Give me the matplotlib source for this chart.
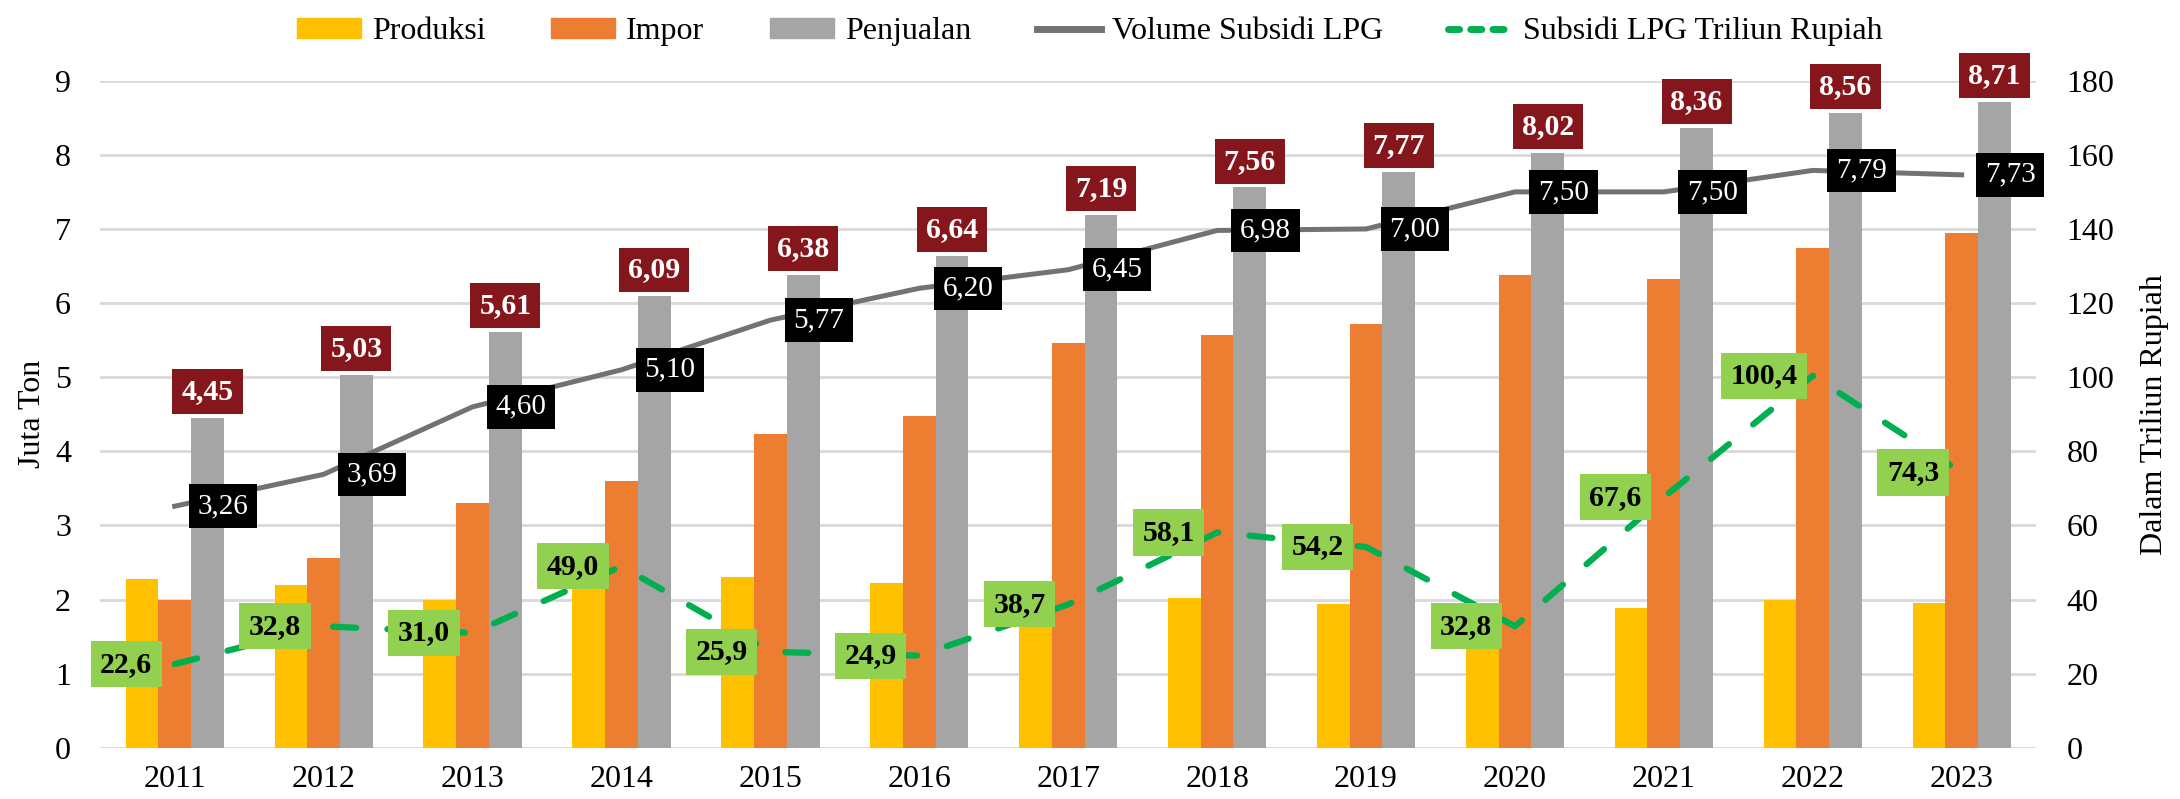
import numpy as np
import matplotlib.pyplot as plt
from matplotlib.lines import Line2D
from matplotlib.patches import Patch

plt.rcParams['font.family'] = ['Liberation Serif', 'DejaVu Serif']

tahun = ["2011", "2012", "2013", "2014", "2015", "2016", "2017",
         "2018", "2019", "2020", "2021", "2022", "2023"]
produksi = [2.28, 2.20, 2.00, 2.25, 2.30, 2.23, 1.95, 2.02, 1.94, 1.92, 1.89, 1.99, 1.96]
impor = [1.99, 2.56, 3.30, 3.60, 4.23, 4.48, 5.46, 5.57, 5.72, 6.38, 6.33, 6.74, 6.95]
penjualan = [4.45, 5.03, 5.61, 6.09, 6.38, 6.64, 7.19, 7.56, 7.77, 8.02, 8.36, 8.56, 8.71]
volume_subsidi = [3.26, 3.69, 4.60, 5.10, 5.77, 6.20, 6.45, 6.98, 7.00, 7.50, 7.50, 7.79, 7.73]
subsidi_rp = [22.6, 32.8, 31.0, 49.0, 25.9, 24.9, 38.7, 58.1, 54.2, 32.8, 67.6, 100.4, 74.3]

c_prod = "#FFC000"
c_impor = "#ED7D31"
c_jual = "#A5A5A5"
c_vol = "#767171"
c_sub = "#00B050"

def fmt(v, d):
    return f"{v:.{d}f}".replace(".", ",")

fig = plt.figure(figsize=(21.8, 7.99), dpi=100)
ax = fig.add_axes([0.046, 0.064, 0.888, 0.835])
ax2 = ax.twinx()

x = np.arange(len(tahun))
w = 0.22
ax.bar(x - w, produksi, w, color=c_prod, zorder=2)
ax.bar(x, impor, w, color=c_impor, zorder=2)
ax.bar(x + w, penjualan, w, color=c_jual, zorder=2)
ax.plot(x, volume_subsidi, color=c_vol, lw=3.6, zorder=3)

# Label penjualan (merah tua)
for xi, v in zip(x, penjualan):
    ax.annotate(fmt(v, 2), (xi + w, v), xytext=(0, 19), textcoords="offset points",
                ha="center", va="center", color="white", fontsize=21.5, fontweight="bold",
                bbox=dict(boxstyle="square,pad=0.3", fc="#85161B", ec="none"),
                zorder=6, annotation_clip=False)

# Label volume subsidi (hitam)
for xi, v in zip(x, volume_subsidi):
    ax.annotate(fmt(v, 2), (xi, v), xytext=(35, 0), textcoords="offset points",
                ha="center", va="center", color="white", fontsize=21,
                bbox=dict(boxstyle="square,pad=0.3", fc="black", ec="none"),
                zorder=6)

ax2.plot(x, subsidi_rp, color=c_sub, lw=4.5, ls=(0, (3.7, 5)), dash_capstyle="round", zorder=4)
for xi, v in zip(x, subsidi_rp):
    ax2.annotate(fmt(v, 1), (xi, v), xytext=(-35, 0), textcoords="offset points",
                 ha="center", va="center", color="black", fontsize=21.5, fontweight="bold",
                 bbox=dict(boxstyle="square,pad=0.32", fc="#92D050", ec="none"),
                 zorder=7)

ax.set_xlim(-0.5, len(tahun) - 0.5)
ax.set_ylim(0, 9)
ax2.set_ylim(0, 180)
ax.set_yticks(range(0, 10))
ax2.set_yticks(range(0, 181, 20))
ax.set_xticks(x)
ax.set_xticklabels(tahun)
ax.grid(axis="y", color="#D9D9D9", lw=2, zorder=0)
ax.set_axisbelow(True)
for a in (ax, ax2):
    for s in a.spines.values():
        s.set_visible(False)
    a.tick_params(length=0, labelsize=23)
ax.tick_params(axis="y", pad=21)
ax.tick_params(axis="x", pad=12)
ax2.tick_params(axis="y", pad=22)
ax.set_ylabel("Juta Ton", fontsize=23, labelpad=6)
ax2.set_ylabel("Dalam Triliun Rupiah", fontsize=23, labelpad=18)

ax.set_zorder(ax2.get_zorder() - 1)
ax.patch.set_visible(False)

handles = [Patch(color=c_prod), Patch(color=c_impor), Patch(color=c_jual),
           Line2D([], [], color=c_vol, lw=5),
           Line2D([], [], color=c_sub, lw=5, ls=(0, (1.6, 1.6)), dash_capstyle="round")]
names = ["Produksi", "Impor", "Penjualan", "Volume Subsidi LPG", "Subsidi LPG Triliun Rupiah"]
fig.legend(handles, names, loc="upper center", bbox_to_anchor=(0.5, 1.015), ncol=5,
           frameon=False, fontsize=23, handlelength=2.0, handleheight=0.6,
           columnspacing=2.05, handletextpad=0.35)

fig.savefig("out.png", dpi=100)
